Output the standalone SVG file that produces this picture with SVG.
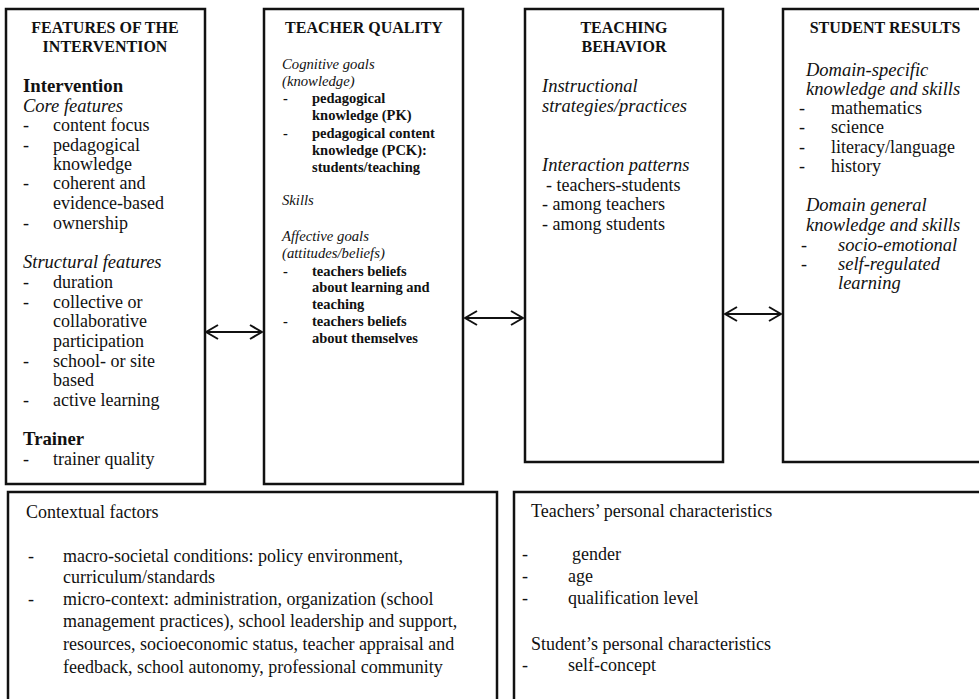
<svg xmlns="http://www.w3.org/2000/svg" width="979" height="699" viewBox="0 0 979 699">
<style>
  .box { fill: #fff; stroke: #111; stroke-width: 2.5; }
  text { font-family: "Liberation Serif", "Times New Roman", serif; fill: #111; }
  .t { font-size: 16px; font-weight: bold; text-anchor: middle; }
  .b { font-size: 18px; }
  .h { font-size: 18.8px; font-weight: bold; }
  .i { font-size: 18.5px; font-style: italic; }
  .s { font-size: 14.5px; font-weight: bold; }
  .si { font-size: 14.7px; font-style: italic; }
  .c { stroke: #111; stroke-width: 2; fill: none; }
</style>
<defs>
  <marker id="ah" viewBox="0 0 14 16" refX="13" refY="8" markerWidth="14" markerHeight="16" markerUnits="userSpaceOnUse" orient="auto-start-reverse">
    <path d="M1,1 L13,8 L1,15" fill="none" stroke="#111" stroke-width="2"/>
  </marker>
</defs>
<rect width="979" height="699" fill="#fff"/>

<g id="features">
  <rect class="box" x="6" y="9" width="199" height="475"/>
  <text class="t" x="105" y="33">FEATURES OF THE</text>
  <text class="t" x="105" y="52">INTERVENTION</text>
  <text class="h" x="23" y="92">Intervention</text>
  <text class="i" x="23" y="112">Core features</text>
  <g class="b">
    <text x="23" y="131">-</text><text x="53" y="131">content focus</text>
    <text x="23" y="151">-</text><text x="53" y="151">pedagogical</text>
    <text x="53" y="170">knowledge</text>
    <text x="23" y="189">-</text><text x="53" y="189">coherent and</text>
    <text x="53" y="209">evidence-based</text>
    <text x="23" y="229">-</text><text x="53" y="229">ownership</text>
  </g>
  <text class="i" x="23" y="268">Structural features</text>
  <g class="b">
    <text x="23" y="288">-</text><text x="53" y="288">duration</text>
    <text x="23" y="308">-</text><text x="53" y="308">collective or</text>
    <text x="53" y="327">collaborative</text>
    <text x="53" y="347">participation</text>
    <text x="23" y="367">-</text><text x="53" y="367">school- or site</text>
    <text x="53" y="386">based</text>
    <text x="23" y="406">-</text><text x="53" y="406">active learning</text>
  </g>
  <text class="h" x="23" y="445">Trainer</text>
  <g class="b">
    <text x="23" y="465">-</text><text x="53" y="465">trainer quality</text>
  </g>
</g>

<g id="teacher-quality">
  <rect class="box" x="264" y="9" width="199" height="475"/>
  <text class="t" x="364" y="33">TEACHER QUALITY</text>
  <text class="si" x="282" y="69">Cognitive goals</text>
  <text class="si" x="282" y="86">(knowledge)</text>
  <g class="s">
    <text x="283" y="103">-</text><text x="312" y="103">pedagogical</text>
    <text x="312" y="120">knowledge (PK)</text>
    <text x="283" y="138">-</text><text x="312" y="138">pedagogical content</text>
    <text x="312" y="155">knowledge (PCK):</text>
    <text x="312" y="172">students/teaching</text>
  </g>
  <text class="si" x="282" y="205">Skills</text>
  <text class="si" x="282" y="241">Affective goals</text>
  <text class="si" x="282" y="258">(attitudes/beliefs)</text>
  <g class="s">
    <text x="283" y="276">-</text><text x="312" y="276">teachers beliefs</text>
    <text x="312" y="292">about learning and</text>
    <text x="312" y="309">teaching</text>
    <text x="283" y="326">-</text><text x="312" y="326">teachers beliefs</text>
    <text x="312" y="343">about themselves</text>
  </g>
</g>

<g id="teaching-behavior">
  <rect class="box" x="525" y="9" width="198" height="453"/>
  <text class="t" x="624" y="33">TEACHING</text>
  <text class="t" x="624" y="52">BEHAVIOR</text>
  <text class="i" x="542" y="92">Instructional</text>
  <text class="i" x="542" y="112">strategies/practices</text>
  <text class="i" x="542" y="171">Interaction patterns</text>
  <g class="b">
    <text x="546" y="191">- teachers-students</text>
    <text x="542" y="210">-  among teachers</text>
    <text x="542" y="230">- among students</text>
  </g>
</g>

<g id="student-results">
  <rect class="box" x="783" y="9" width="210" height="453"/>
  <text class="t" x="885" y="33">STUDENT RESULTS</text>
  <text class="i" x="806" y="76">Domain-specific</text>
  <text class="i" x="806" y="95">knowledge and skills</text>
  <g class="b">
    <text x="799" y="114">-</text><text x="831" y="114">mathematics</text>
    <text x="799" y="133">-</text><text x="831" y="133">science</text>
    <text x="799" y="153">-</text><text x="831" y="153">literacy/language</text>
    <text x="799" y="172">-</text><text x="831" y="172">history</text>
  </g>
  <text class="i" x="806" y="211">Domain general</text>
  <text class="i" x="806" y="231">knowledge and skills</text>
  <text class="b" x="801" y="251">-</text><text class="i" x="838" y="251">socio-emotional</text>
  <text class="b" x="801" y="270">-</text><text class="i" x="838" y="270">self-regulated</text>
  <text class="i" x="838" y="289">learning</text>
</g>

<g id="contextual-factors">
  <rect class="box" x="8" y="492" width="489" height="220"/>
  <text class="b" x="26" y="518">Contextual factors</text>
  <g class="b">
    <text x="28" y="562">-</text><text x="63" y="562">macro-societal conditions: policy environment,</text>
    <text x="63" y="583">curriculum/standards</text>
    <text x="28" y="605">-</text><text x="63" y="605">micro-context: administration, organization (school</text>
    <text x="63" y="627">management practices), school leadership and support,</text>
    <text x="63" y="650">resources, socioeconomic status, teacher appraisal and</text>
    <text x="63" y="673">feedback, school autonomy, professional community</text>
  </g>
</g>

<g id="personal-characteristics">
  <rect class="box" x="514" y="492" width="480" height="220"/>
  <g class="b">
    <text x="531" y="517">Teachers’ personal characteristics</text>
    <text x="522" y="560">-</text><text x="572" y="560">gender</text>
    <text x="522" y="582">-</text><text x="568" y="582">age</text>
    <text x="522" y="604">-</text><text x="568" y="604">qualification level</text>
    <text x="531" y="650">Student’s personal characteristics</text>
    <text x="522" y="671">-</text><text x="568" y="671">self-concept</text>
  </g>
</g>

<g id="connectors">
  <line class="c" x1="206" y1="332" x2="262" y2="332" marker-start="url(#ah)" marker-end="url(#ah)"/>
  <line class="c" x1="465" y1="318" x2="523" y2="318" marker-start="url(#ah)" marker-end="url(#ah)"/>
  <line class="c" x1="725" y1="314" x2="781" y2="314" marker-start="url(#ah)" marker-end="url(#ah)"/>
</g>
</svg>
